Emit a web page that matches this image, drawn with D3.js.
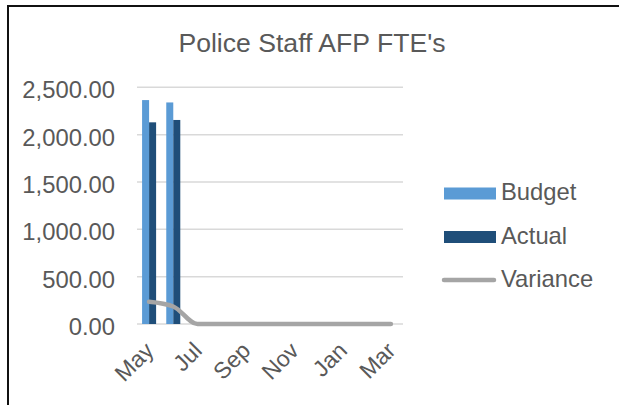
<!doctype html>
<html>
<head>
<meta charset="utf-8">
<style>
    body { margin: 0; background: #fff; }
    svg { display: block; font-family: "Liberation Sans", Arial, sans-serif; }
</style>
<script src="https://d3js.org/d3.v7.min.js"></script>
</head>
<body>
<svg width="619" height="405"></svg>
<script>
    // data
    var months = ["May", "Jun", "Jul", "Aug", "Sep", "Oct", "Nov", "Dec", "Jan", "Feb", "Mar"];
    var budget = [2365, 2340, null, null, null, null, null, null, null, null, null];
    var actual = [2130, 2155, null, null, null, null, null, null, null, null, null];
    var variance = [235, 185, 0, 0, 0, 0, 0, 0, 0, 0, 0];
    var yTicks = [0, 500, 1000, 1500, 2000, 2500];
    var seriesNames = ["Budget", "Actual", "Variance"];
    var colors = {Budget: "#5B9BD5", Actual: "#1F4E79", Variance: "#A5A5A5"};

    var svg = d3.select("svg");
    var textColor = "#595959";

    // outer frame
    svg.append("rect")
        .attr("x", 8).attr("y", 6)
        .attr("width", 640).attr("height", 430)
        .attr("fill", "none")
        .attr("stroke", "#111")
        .attr("stroke-width", 2);

    var plotLeft = 137, plotRight = 403, plotTop = 87.3, plotBottom = 324;

    var x = d3.scaleBand().domain(months).range([plotLeft, plotRight]).padding(0);
    var y = d3.scaleLinear().domain([0, 2500]).range([plotBottom, plotTop]);
    var xs = d3.scaleBand().domain(["Budget", "Actual"])
        .range([x.bandwidth() * 0.21, x.bandwidth() * 0.79]).padding(0);

    // title
    svg.append("text")
        .attr("x", 312).attr("y", 52)
        .attr("text-anchor", "middle")
        .attr("font-size", "26.6px")
        .attr("fill", textColor)
        .text("Police Staff AFP FTE's");

    // gridlines
    svg.append("g").selectAll("line")
        .data(yTicks)
        .enter().append("line")
        .attr("x1", plotLeft).attr("x2", plotRight)
        .attr("y1", function(d) { return y(d); })
        .attr("y2", function(d) { return y(d); })
        .attr("stroke", "#D9D9D9")
        .attr("stroke-width", 1.5);

    // y axis labels
    var fmt = d3.format(",.2f");
    svg.append("g").selectAll("text")
        .data(yTicks)
        .enter().append("text")
        .attr("x", 115)
        .attr("y", function(d) { return y(d) + 11; })
        .attr("text-anchor", "end")
        .attr("font-size", "23.8px")
        .attr("fill", textColor)
        .text(function(d) { return fmt(d); });

    // bars
    var barData = [];
    months.forEach(function(m, i) {
        if (budget[i] != null) barData.push({m: m, s: "Budget", v: budget[i]});
        if (actual[i] != null) barData.push({m: m, s: "Actual", v: actual[i]});
    });
    svg.append("g").selectAll("rect")
        .data(barData)
        .enter().append("rect")
        .attr("x", function(d) { return x(d.m) + xs(d.s); })
        .attr("y", function(d) { return y(d.v); })
        .attr("width", xs.bandwidth())
        .attr("height", function(d) { return y(0) - y(d.v); })
        .attr("fill", function(d) { return colors[d.s]; });

    // variance line
    var line = d3.line()
        .x(function(d, i) { return x(months[i]) + x.bandwidth() / 2; })
        .y(function(d) { return y(d); })
        .curve(d3.curveMonotoneX);
    svg.append("path")
        .datum(variance)
        .attr("d", line)
        .attr("fill", "none")
        .attr("stroke", colors.Variance)
        .attr("stroke-width", 4.5)
        .attr("stroke-linecap", "round")
        .attr("stroke-linejoin", "round");

    // x labels, every other month
    svg.append("g").selectAll("text")
        .data(months.filter(function(d, i) { return i % 2 === 0; }))
        .enter().append("text")
        .attr("transform", function(d) {
            return "translate(" + (x(d) + x.bandwidth() / 2 + 6) + "," + (plotBottom + 28) + ") rotate(-45)";
        })
        .attr("text-anchor", "end")
        .attr("font-size", "23px")
        .attr("fill", textColor)
        .text(function(d) { return d; });

    // legend
    var legend = svg.append("g").selectAll("g")
        .data(seriesNames)
        .enter().append("g")
        .attr("transform", function(d, i) { return "translate(0," + (200 + i * 43.5) + ")"; });

    legend.filter(function(d) { return d !== "Variance"; })
        .append("rect")
        .attr("x", 444).attr("y", -12.5)
        .attr("width", 52).attr("height", 12)
        .attr("fill", function(d) { return colors[d]; });

    legend.filter(function(d) { return d === "Variance"; })
        .append("line")
        .attr("x1", 444).attr("x2", 494)
        .attr("y1", -7).attr("y2", -7)
        .attr("stroke", colors.Variance)
        .attr("stroke-width", 4.5)
        .attr("stroke-linecap", "round");

    legend.append("text")
        .attr("x", 501)
        .attr("y", 0)
        .attr("font-size", "23.8px")
        .attr("fill", textColor)
        .text(function(d) { return d; });
</script>
</body>
</html>
